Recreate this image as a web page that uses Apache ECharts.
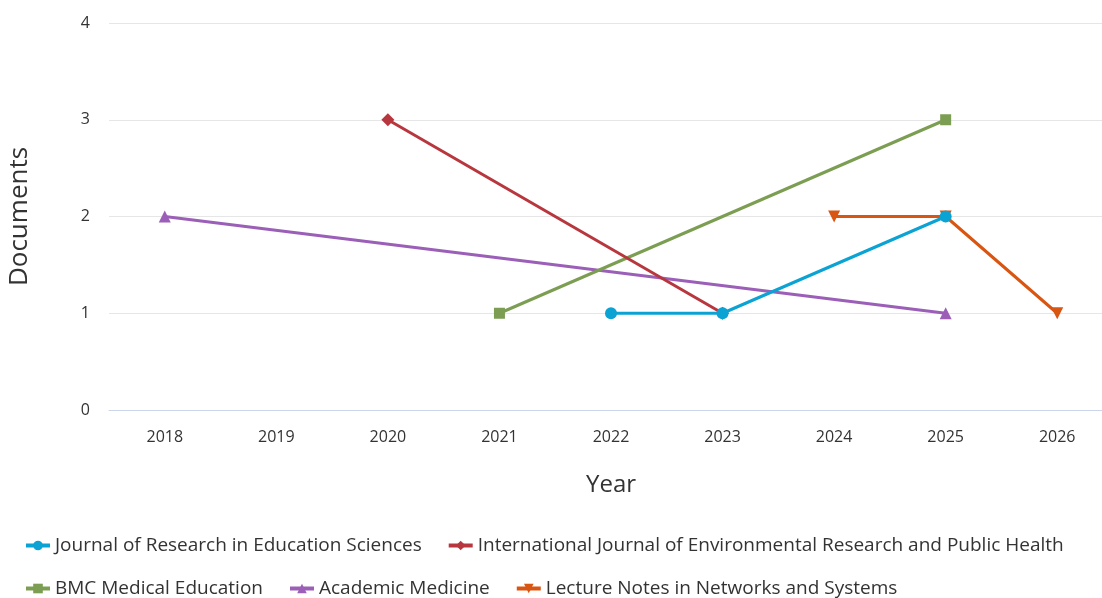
<!DOCTYPE html>
<html>
<head>
<meta charset="utf-8">
<script src="https://cdn.jsdelivr.net/npm/echarts@6/dist/echarts.min.js"></script>
<style>html,body{margin:0;padding:0;background:#fff;}#c{width:1102px;height:598px;}</style>
</head>
<body>
<div id="c"></div>
<script>
const years = ['2018','2019','2020','2021','2022','2023','2024','2025','2026'];
const yTicks = [0,1,2,3,4];
const seriesNames = [
  'Journal of Research in Education Sciences',
  'International Journal of Environmental Research and Public Health',
  'BMC Medical Education',
  'Academic Medicine',
  'Lecture Notes in Networks and Systems'
];
const jres = [null,null,null,null,1,1,null,2,null];
const ijerph = [null,null,3,null,null,1,null,null,null];
const bmc = [null,null,null,1,null,null,null,3,null];
const acadMed = [2,null,null,null,null,null,null,1,null];
const lnns = [null,null,null,null,null,null,2,2,1];

const colors = ['#0ba3d3','#b8373e','#7c9e52','#9b5fb8','#d95512'];
const symbols = ['circle','diamond','rect','triangle','triangle'];
const rotates = [0,0,0,0,180];
const sizes = [12,13,11,12,12];
const dataArr = [jres, ijerph, bmc, acadMed, lnns];
const FONT = 'Open Sans';

const chart = echarts.init(document.getElementById('c'));
chart.setOption({
  animation: false,
  textStyle: {fontFamily: FONT},
  grid: {left: 109, width: 1004, top: 23, bottom: 188, outerBoundsMode: 'none', containLabel: false},
  xAxis: {
    type: 'category', data: years, boundaryGap: true,
    name: 'Year', nameLocation: 'middle', nameGap: 63,
    nameTextStyle: {fontSize: 24, color: '#333', fontFamily: FONT},
    axisLine: {lineStyle: {color: '#ccd6eb', width: 1}},
    axisTick: {show: false},
    axisLabel: {fontSize: 16, color: '#333', margin: 19, fontFamily: FONT}
  },
  yAxis: {
    type: 'value', min: 0, max: 4, interval: 1,
    name: 'Documents', nameLocation: 'middle', nameGap: 76, nameRotate: 90,
    nameTextStyle: {fontSize: 26, color: '#333', fontFamily: FONT},
    axisLine: {show: false}, axisTick: {show: false},
    axisLabel: {fontSize: 16, color: '#333', margin: 19, fontFamily: FONT},
    splitLine: {lineStyle: {color: '#e6e6e6', width: 1}}
  },
  legend: [
    {data: seriesNames.slice(0,2), left: 19, top: 531, itemGap: 25, itemWidth: 24, itemHeight: 12,
     lineStyle: {width: 4},
     textStyle: {fontSize: 19, color: '#333', fontFamily: FONT}},
    {data: seriesNames.slice(2), left: 19, top: 574, itemGap: 25, itemWidth: 24, itemHeight: 12,
     lineStyle: {width: 4},
     textStyle: {fontSize: 19, color: '#333', fontFamily: FONT}}
  ],
  series: seriesNames.map((n, i) => ({
    name: n, type: 'line', data: dataArr[i], connectNulls: true,
    symbol: symbols[i], symbolSize: sizes[i], symbolRotate: rotates[i],
    lineStyle: {width: 3, color: colors[i]},
    itemStyle: {color: colors[i]},
    z: 10 - i
  }))
});
</script>
</body>
</html>
